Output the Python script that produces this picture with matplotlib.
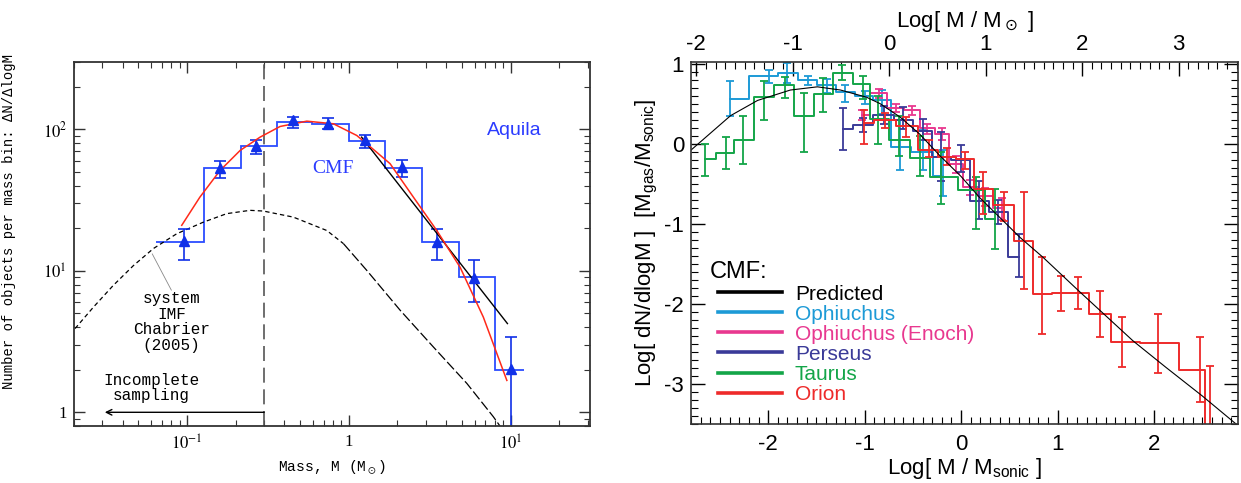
import numpy as np
import matplotlib
matplotlib.use('Agg')
import matplotlib.pyplot as plt
from matplotlib.lines import Line2D
from matplotlib.ticker import FixedLocator, NullFormatter, MultipleLocator, LogLocator

plt.rcParams['axes.unicode_minus'] = False
plt.rcParams['mathtext.fontset'] = 'custom'
plt.rcParams['mathtext.rm'] = 'Liberation Sans'
plt.rcParams['mathtext.it'] = 'Liberation Sans:italic'
plt.rcParams['mathtext.bf'] = 'Liberation Sans:bold'

# ---------------- left panel: Aquila CMF ----------------
aq_edges = [0.064, 0.128, 0.216, 0.359, 0.594, 1.01, 1.68, 2.83, 4.77, 8.03, 12.1]
aq_hist = [16, 53, 76, 113, 110, 83, 53, 16, 9, 2]
aq_mass = [0.096, 0.159, 0.268, 0.452, 0.748, 1.265, 2.12, 3.53, 5.97, 10.0]
aq_n = [16.3, 53.3, 76.3, 115.8, 109.7, 83.6, 54.2, 16.0, 8.97, 2.02]
aq_hi = [19.8, 59.5, 84.5, 122, 120, 91, 61, 19.8, 12.0, 3.42]
aq_lo = [12.0, 45.5, 66.7, 102, 100, 74, 46, 12.0, 6.0, 0.5]

# lognormal fit (red)
fit_m = [0.0927, 0.120, 0.160, 0.213, 0.283, 0.376, 0.550, 0.803, 1.12, 1.29,
         1.80, 2.51, 3.50, 4.88, 6.79, 9.49]
fit_n = [21.0, 33.2, 51.3, 71.1, 88.3, 105, 114.5, 109.7, 90.7, 79.3,
         57.3, 33.2, 19.3, 10.6, 4.71, 1.68]
# power-law tail (black)
pl_m = [1.20, 9.57]
pl_n = [88.3, 4.24]
# Chabrier (2005) system IMF, lognormal part and Salpeter part
chab_m1 = [0.0203, 0.0264, 0.035, 0.0466, 0.062, 0.0863, 0.126, 0.176, 0.245,
           0.296, 0.454, 0.731, 0.926]
chab_n1 = [3.91, 5.55, 7.9, 10.9, 14.4, 18.3, 22.1, 25.4, 26.8, 26.5, 24.0, 19.3, 15.6]
chab_m2 = [0.926, 1.29, 2.08, 3.34, 5.37, 7.83, 8.6]
chab_n2 = [15.6, 10.1, 5.26, 2.89, 1.60, 0.93, 0.80]
m_complete = 0.3

# ---------------- right panel: CMFs vs prediction ----------------
pred_x = [-2.80, -2.39, -2.11, -1.77, -1.49, -1.25, -0.98, -0.84, -0.63, -0.43,
          -0.22, 0.0, 0.19, 0.40, 0.61, 0.85, 1.23, 1.78, 2.12, 2.50, 2.85]
pred_y = [-0.08, 0.35, 0.54, 0.67, 0.71, 0.67, 0.58, 0.50, 0.33, 0.12,
          -0.15, -0.41, -0.67, -0.92, -1.17, -1.42, -1.85, -2.46, -2.79, -3.15, -3.50]

oph_x = [-2.40, -1.99, -1.80, -1.59, -1.39, -1.20, -1.00, -0.82, -0.63, -0.40, -0.19]
oph_y = [0.56, 0.84, 0.88, 0.79, 0.73, 0.65, 0.59, 0.54, -0.04, -0.10, -0.40]
oph_hi = [0.78, 0.925, 1.01, 0.84, 0.81, 0.73, 0.66, 0.67, 0.30, 0.17, -0.08]
oph_lo = [0.35, 0.76, 0.76, 0.73, 0.63, 0.52, 0.50, 0.375, -0.33, -0.33, -0.65]

eno_x = [-1.03, -0.85, -0.68, -0.51, -0.35, -0.20, -0.05, 0.09, 0.25, 0.42]
eno_y = [0.36, 0.63, 0.45, 0.42, 0.19, 0.125, -0.25, -0.54, -0.65, -0.80]
eno_hi = [0.42, 0.68, 0.50, 0.47, 0.25, 0.20, -0.15, -0.45, -0.55, -0.68]
eno_lo = [0.30, 0.57, 0.39, 0.36, 0.12, 0.05, -0.36, -0.64, -0.78, -0.95]

per_x = [-1.22, -1.02, -0.80, -0.60, -0.40, -0.21, 0.0, 0.19, 0.38, 0.60]
per_y = [0.18, 0.23, 0.36, 0.30, 0.16, -0.17, -0.20, -0.71, -0.85, -1.42]
per_hi = [0.45, 0.32, 0.47, 0.46, 0.31, 0.15, -0.02, -0.46, -0.70, -1.13]
per_lo = [-0.08, 0.14, 0.24, 0.18, 0.04, -0.46, -0.35, -0.94, -1.00, -1.67]

tau_x = [-2.65, -2.44, -2.26, -2.04, -1.83, -1.63, -1.43, -1.23, -1.02, -0.86,
         -0.64, -0.43, -0.21, 0.15, 0.35]
tau_y = [-0.19, -0.12, 0.05, 0.58, 0.73, 0.35, 0.625, 0.88, 0.74, 0.31,
         0.05, -0.18, -0.42, -0.58, -0.94]
tau_hi = [0.0, 0.08, 0.35, 0.78, 0.83, 0.63, 0.82, 0.98, 0.85, 0.60,
          0.35, 0.10, -0.10, -0.42, -0.56]
tau_lo = [-0.40, -0.31, -0.25, 0.30, 0.57, -0.10, 0.39, 0.79, 0.56, 0.0,
          -0.15, -0.40, -0.75, -1.06, -1.31]

ori_x = [-1.01, -0.79, -0.57, -0.33, -0.15, 0.04, 0.23, 0.44, 0.65, 0.84,
         1.04, 1.21, 1.44, 1.67, 2.04, 2.48, 2.58]
ori_y = [0.26, 0.29, 0.22, -0.08, -0.17, -0.19, -0.56, -0.77, -1.21, -1.88,
         -1.87, -1.86, -2.13, -2.48, -2.49, -2.83, -3.60]
ori_hi = [0.42, 0.38, 0.33, 0.04, -0.05, -0.10, -0.355, -0.60, -0.60, -1.41,
          -1.65, -1.67, -1.84, -2.16, -2.13, -2.41, -2.78]
ori_lo = [0.00, 0.20, 0.08, -0.17, -0.27, -0.31, -0.875, -0.96, -1.81, -2.37,
          -2.09, -2.06, -2.41, -2.79, -2.86, -3.23, -3.60]

log_msonic = -0.745   # Log[M/Msun] = Log[M/Msonic] - log_msonic

mono = 'Liberation Mono'
sans = 'Liberation Sans'

fig = plt.figure(figsize=(12.41, 4.83), dpi=100)

# ================= left panel =================
ax1 = fig.add_axes([74/1241, 57/483, 516/1241, 364/483])
ax1.set_xscale('log')
ax1.set_yscale('log')

ax1.plot(chab_m1, chab_n1, color='black', lw=0.9, dashes=(3.5, 2.5))
ax1.plot(chab_m2, chab_n2, color='black', lw=0.9, dashes=(8, 2.5))
ax1.axvline(m_complete, color='#555555', lw=1.2, dashes=(9, 4))

ax1.stairs(aq_hist, aq_edges, baseline=None, color='#2b4cff', lw=1.3)
aq_n_a = np.array(aq_n)
ax1.errorbar(aq_mass, aq_n, yerr=[aq_n_a - np.array(aq_lo), np.array(aq_hi) - aq_n_a],
             fmt='^', color='#1030e8', ms=6.5, elinewidth=1.2, capsize=4, capthick=1.2)
ax1.plot(pl_m, pl_n, color='black', lw=1.0)
ax1.plot(fit_m, fit_n, color='#ff2a1a', lw=1.1)

ax1.annotate('', xy=(0.031, 1.0), xytext=(m_complete, 1.0),
             arrowprops=dict(arrowstyle='->', lw=1.0, color='black', shrinkA=0, shrinkB=0))
ax1.annotate('', xy=(0.0609, 13.2), xytext=(0.080, 7.3),
             arrowprops=dict(arrowstyle='-', lw=0.6, color='#888888', shrinkA=0, shrinkB=0))

ax1.text(10.6, 98, 'Aquila', color='#2b3cff', fontsize=14, family=sans, ha='center', va='center')
ax1.text(0.80, 53.3, 'CMF', color='#2b3cff', fontsize=14, family='Liberation Serif',
         ha='center', va='center')
ax1.text(0.080, 4.34, 'system\nIMF\nChabrier\n(2005)', fontsize=11.5, family=mono,
         ha='center', va='center', linespacing=1.05)
ax1.text(0.0604, 1.49, 'Incomplete\nsampling', fontsize=11.5, family=mono,
         ha='center', va='center', linespacing=1.0)

ax1.set_xlim(0.02, 31)
ax1.set_ylim(0.8, 300)
ax1.xaxis.set_major_locator(FixedLocator([0.1, 1, 10]))
ax1.yaxis.set_major_locator(FixedLocator([1, 10, 100]))
ax1.xaxis.set_minor_locator(LogLocator(base=10, subs=np.arange(2, 10)))
ax1.yaxis.set_minor_locator(LogLocator(base=10, subs=np.arange(2, 10)))
ax1.xaxis.set_minor_formatter(NullFormatter())
ax1.yaxis.set_minor_formatter(NullFormatter())
ax1.set_xticklabels([r'$10^{-1}$', '1', r'$10^{1}$'], family='Liberation Serif',
                    math_fontfamily='stix', fontsize=12)
ax1.set_yticklabels(['1', r'$10^{1}$', r'$10^{2}$'], family='Liberation Serif',
                    math_fontfamily='stix', fontsize=12)
ax1.tick_params(which='both', direction='in', top=True, right=True, color='#333333')
ax1.tick_params(which='major', length=8, width=1.0)
ax1.tick_params(axis='x', which='major', pad=6)
ax1.tick_params(axis='y', which='major', pad=5)
ax1.tick_params(which='minor', length=4, width=0.8)
for s in ax1.spines.values():
    s.set_linewidth(1.3)
    s.set_color('#333333')
ax1.set_xlabel(r'Mass, M (M$_\odot$)', family=mono, fontsize=10.5, math_fontfamily='stix',
               labelpad=3)
ax1.set_ylabel('Number of objects per mass bin: ΔN/ΔlogM', family=mono, fontsize=10)
ax1.yaxis.set_label_coords(-0.113, 0.563)

# ================= right panel =================
ax2 = fig.add_axes([691/1241, 59/483, 547/1241, 362/483])

series = [
    ('Ophiuchus', '#1c9ad6', oph_x, oph_y, oph_hi, oph_lo),
    ('Ophiuchus (Enoch)', '#e8388f', eno_x, eno_y, eno_hi, eno_lo),
    ('Perseus', '#3a3a98', per_x, per_y, per_hi, per_lo),
    ('Taurus', '#13a548', tau_x, tau_y, tau_hi, tau_lo),
    ('Orion', '#ee2a2a', ori_x, ori_y, ori_hi, ori_lo),
]
for name, col, x, y, hi, lo in series:
    y_a = np.array(y)
    ax2.plot(x, y, drawstyle='steps-mid', color=col, lw=1.4)
    ax2.errorbar(x, y, yerr=[y_a - np.array(lo), np.array(hi) - y_a], fmt='none',
                 ecolor=col, elinewidth=1.3, capsize=2.8, capthick=1.3)
ax2.plot(pred_x, pred_y, color='black', lw=0.8)

handles = [Line2D([], [], color='black', lw=2.6)]
labels = ['Predicted']
for name, col, *_ in series:
    handles.append(Line2D([], [], color=col, lw=2.6))
    labels.append(name)
ax2.text(0.035, 0.42, 'CMF:', transform=ax2.transAxes, family=sans, fontsize=17,
         ha='left', va='center')
leg = ax2.legend(handles, labels, loc='upper left', bbox_to_anchor=(0.049, 0.385),
                 frameon=False, labelcolor='linecolor',
                 handlelength=3.1, handletextpad=0.6, labelspacing=0.05, borderpad=0,
                 borderaxespad=0, prop={'family': sans, 'size': 15})

ax2.set_xlim(-2.80, 2.87)
ax2.set_ylim(-3.5, 1.02)
ax2.xaxis.set_major_locator(MultipleLocator(1))
ax2.xaxis.set_minor_locator(MultipleLocator(0.1))
ax2.yaxis.set_major_locator(MultipleLocator(1))
ax2.yaxis.set_minor_locator(MultipleLocator(0.1))
ax2.tick_params(which='both', direction='in', top=False, right=True, labelsize=16)
ax2.tick_params(which='major', length=10, width=1.0, pad=7)
ax2.tick_params(which='minor', length=5, width=0.8)
for lbl in ax2.get_xticklabels() + ax2.get_yticklabels():
    lbl.set_family(sans)
ax2.tick_params(axis='y', pad=5)
for s in ax2.spines.values():
    s.set_linewidth(1.2)
    s.set_color('#333333')

top = ax2.secondary_xaxis('top', functions=(lambda b: b - log_msonic, lambda t: t + log_msonic))
top.xaxis.set_major_locator(FixedLocator([-2, -1, 0, 1, 2, 3]))
top.xaxis.set_minor_locator(MultipleLocator(0.1))
top.tick_params(which='both', direction='in', labelsize=16, pad=5)
top.tick_params(which='major', length=10, width=1.0)
top.tick_params(which='minor', length=5, width=0.8)
for lbl in top.get_xticklabels():
    lbl.set_family(sans)
top.spines['top'].set_visible(False)
top.set_xlabel(r'Log[ M / M$_\odot$ ]', family=sans, fontsize=16, labelpad=5,
               math_fontfamily='dejavusans')

ax2.set_xlabel(r'Log[ M / M$_{\rm sonic}$ ]', family=sans, fontsize=16, labelpad=1)
ax2.set_ylabel(r'Log[ dN/dlogM ]  [M$_{\rm gas}$/M$_{\rm sonic}$]', family=sans,
               fontsize=16, labelpad=3)

fig.savefig('out.png', dpi=100)
